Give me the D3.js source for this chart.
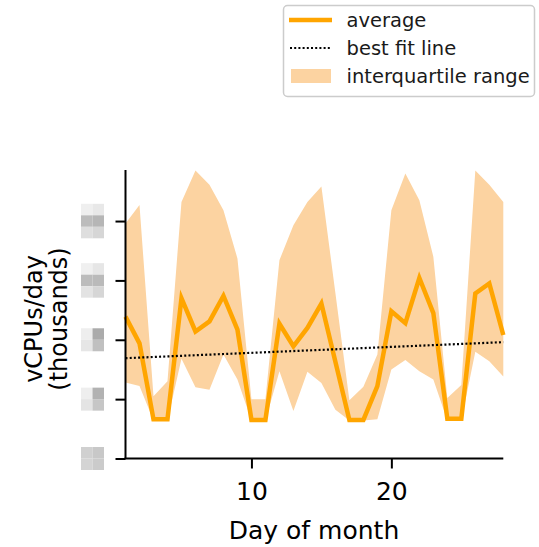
<!DOCTYPE html>
<html>
<head>
<meta charset="utf-8">
<script src="https://cdn.jsdelivr.net/npm/d3@7"></script>
<style>
  html, body { margin: 0; padding: 0; background: #ffffff; }
  svg { display: block; font-family: "DejaVu Sans", sans-serif; }
</style>
</head>
<body>
<svg id="chart" width="539" height="547"></svg>
<script>
// ---- data ----
const days = [1,2,3,4,5,6,7,8,9,10,11,12,13,14,15,16,17,18,19,20,21,22,23,24,25,26,27,28];
const average = [2.39,1.94,0.66,0.66,2.70,2.14,2.31,2.74,2.17,0.65,0.65,2.27,1.89,2.20,2.61,1.63,0.65,0.65,1.22,2.48,2.28,3.04,2.45,0.67,0.67,2.78,2.95,2.08];
const upper = [3.96,4.27,1.05,1.30,4.32,4.85,4.61,4.18,3.37,1.00,1.00,3.34,3.93,4.32,4.58,2.79,0.98,1.21,1.75,4.18,4.80,4.35,3.40,1.02,1.24,4.85,4.61,4.32];
const lower = [1.28,1.22,0.64,0.64,1.68,1.20,1.16,1.75,1.33,0.64,0.64,1.47,0.80,1.46,1.27,0.82,0.64,0.64,0.66,1.50,1.66,1.47,1.33,0.64,0.64,1.80,1.64,1.38];
const bestFitDays = [1, 28];
const bestFit = [1.69, 1.96];
const xTicks = [10, 20];
const yTicks = [0, 1, 2, 3, 4];
// y tick labels are pixelated (unreadable) in the reference: grey cells per label
const yTickCells = [
  [["#d0d0d0","#c8c8c8"],["#d4d4d4","#cbcbcb"]],
  [["#eeeeee","#b2b2b2"],["#e4e4e4","#c6c6c6"]],
  [["#eeeeee","#ababab"],["#e6e6e6","#c0c0c0"]],
  [["#f0f0f0","#e6e6e6"],["#bcbcbc","#bababa"],["#e3e3e3","#d6d6d6"]],
  [["#efefef","#e8e8e8"],["#bcbcbc","#b6b6b6"],["#dedede","#d6d6d6"]]
];
const legendLabels = ["average", "best fit line", "interquartile range"];
const xLabel = "Day of month";
const yLabelLines = ["vCPUs/day", "(thousands)"];

// ---- drawing ----
const svg = d3.select("#chart");
const x = d3.scaleLinear().domain([1, 28]).range([125.5, 503.3]);
const y = d3.scaleLinear().domain([0, 4.86]).range([458.5, 170]);
const orange = "#ffa500";
const fillCol = "#fcd3a1";

const rows = days.map((d, i) => ({d, a: average[i], lo: lower[i], hi: upper[i]}));

svg.append("path").datum(rows)
  .attr("fill", fillCol)
  .attr("d", d3.area().x(r => x(r.d)).y0(r => y(r.lo)).y1(r => y(r.hi)));

svg.append("path").datum(rows)
  .attr("fill", "none").attr("stroke", orange).attr("stroke-width", 4.5)
  .attr("stroke-linejoin", "miter").attr("stroke-linecap", "butt")
  .attr("d", d3.line().x(r => x(r.d)).y(r => y(r.a)));

svg.append("path").datum(bestFitDays.map((d, i) => [d, bestFit[i]]))
  .attr("fill", "none").attr("stroke", "#000").attr("stroke-width", 2.2)
  .attr("stroke-dasharray", "2,2.2")
  .attr("d", d3.line().x(p => x(p[0])).y(p => y(p[1])));

// axes
const xAxis = svg.append("g").attr("transform", `translate(0,${y(0)})`)
  .call(d3.axisBottom(x).tickValues(xTicks).tickFormat(d3.format("d")).tickSize(10).tickSizeOuter(0).tickPadding(14));
const yAxis = svg.append("g").attr("transform", `translate(${x(1)},0)`)
  .call(d3.axisLeft(y).tickValues(yTicks).tickFormat("").tickSize(10).tickSizeOuter(0));
[xAxis, yAxis].forEach(g => {
  g.select(".domain").attr("stroke", "#000").attr("stroke-width", 2);
  g.selectAll(".tick line").attr("stroke", "#000").attr("stroke-width", 2);
});
xAxis.select(".domain").attr("d", `M${x(1) - 1},0H${x(28)}`);
yAxis.select(".domain").attr("d", `M0,${y(0)}V${y(4.86)}`);
xAxis.selectAll(".tick text").attr("font-size", 25).attr("fill", "#000")
  .attr("font-family", "DejaVu Sans");

// pixelated y tick labels
const cell = 11.5;
yTicks.forEach((t, i) => {
  const grid = yTickCells[i];
  const top = y(t) - grid.length * cell / 2;
  grid.forEach((row, r) => {
    row.forEach((c, k) => {
      svg.append("rect").attr("x", 81 + k * cell).attr("y", top + r * cell)
        .attr("width", cell).attr("height", cell).attr("fill", c);
    });
  });
});

// axis labels
svg.append("text").attr("x", 314).attr("y", 538.5).attr("text-anchor", "middle")
  .attr("font-size", 25).attr("fill", "#000").text(xLabel);
const yl = svg.append("text").attr("transform", "translate(0,319) rotate(-90)")
  .attr("text-anchor", "middle").attr("font-size", 24).attr("fill", "#000");
yLabelLines.forEach((t, i) => {
  yl.append("tspan").attr("x", 0).attr("y", i === 0 ? 42 : 67).text(t);
});

// legend
const lg = svg.append("g");
lg.append("rect").attr("x", 283.5).attr("y", 5.5).attr("width", 251).attr("height", 91)
  .attr("rx", 4).attr("fill", "#fff").attr("fill-opacity", 0.8)
  .attr("stroke", "#cccccc").attr("stroke-width", 1.5);
lg.append("line").attr("x1", 289).attr("x2", 332).attr("y1", 20).attr("y2", 20)
  .attr("stroke", orange).attr("stroke-width", 4.5);
lg.append("line").attr("x1", 290).attr("x2", 332).attr("y1", 48).attr("y2", 48)
  .attr("stroke", "#000").attr("stroke-width", 2.2).attr("stroke-dasharray", "2,2.2");
lg.append("rect").attr("x", 291).attr("y", 69).attr("width", 40).attr("height", 14)
  .attr("fill", fillCol);
const baselines = [26.7, 55, 83.3];
legendLabels.forEach((t, i) => {
  lg.append("text").attr("x", 346.5).attr("y", baselines[i]).attr("font-size", 19.5)
    .attr("fill", "#1a1a1a").text(t);
});
</script>
</body>
</html>
